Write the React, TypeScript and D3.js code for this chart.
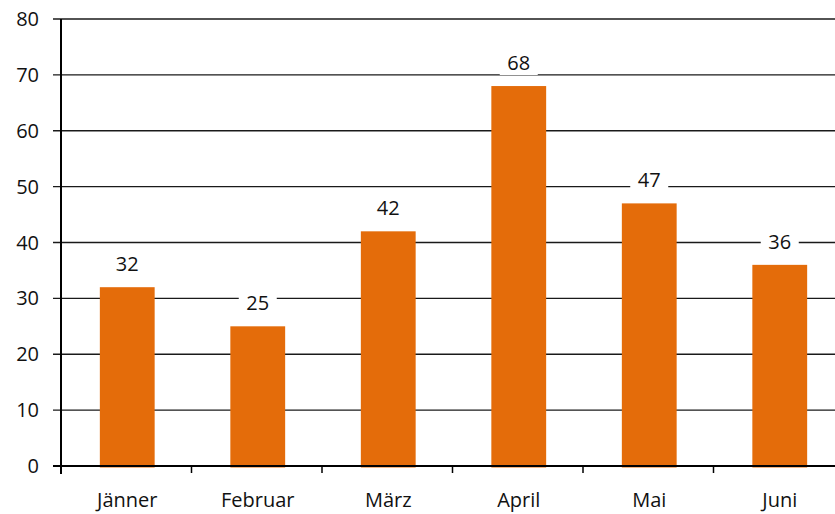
import React from "react";
import * as d3 from "d3";

const categories = ["Jänner", "Februar", "März", "April", "Mai", "Juni"];
const values = [32, 25, 42, 68, 47, 36];
const yTicks = [0, 10, 20, 30, 40, 50, 60, 70, 80];

const W = 835;
const H = 514;
const FONT = "'Open Sans', Lato, sans-serif";

export default function App() {
  const y = d3.scaleLinear().domain([0, 80]).range([466, 19]);
  const x = d3
    .scaleBand<string>()
    .domain(categories)
    .range([62, 845])
    .paddingInner(0.58)
    .paddingOuter(0.29);
  const step = x.step();
  const bw = x.bandwidth();
  const axisLeft = 61;
  const tickXs = d3.range(categories.length + 1).map((i) => 62 + i * step - 1);

  return (
    <svg
      width={W}
      height={H}
      style={{ position: "absolute", left: 0, top: 0, background: "#fff" }}
      fontFamily={FONT}
    >
      {yTicks.map((t) => (
        <g key={t}>
          {t !== 0 && (
            <line x1={53} x2={W} y1={y(t)} y2={y(t)} stroke="#1a1a1a" strokeWidth={1.4} />
          )}
          <text
            x={39}
            y={y(t) + 7}
            textAnchor="end"
            fontSize={20}
            fill="#111"
          >
            {t}
          </text>
        </g>
      ))}
      {categories.map((c, i) => {
        const v = values[i];
        const bx = x(c)!;
        const cx = bx + bw / 2;
        const top = y(v);
        return (
          <g key={c}>
            <rect x={bx} y={top} width={bw} height={y(0) - top + 1.5} fill="#E46C0A" />
            <rect x={cx - 19} y={top - 35} width={38} height={24} fill="#fff" />
            <text
              x={cx}
              y={top - 16}
              textAnchor="middle"
              fontSize={20}
              fill="#111"
            >
              {v}
            </text>
            <text
              x={cx}
              y={507}
              textAnchor="middle"
              fontSize={20}
              fill="#111"
            >
              {c}
            </text>
          </g>
        );
      })}
      <line x1={53} x2={W} y1={y(0)} y2={y(0)} stroke="#000" strokeWidth={2} />
      <line x1={axisLeft} x2={axisLeft} y1={19} y2={474} stroke="#000" strokeWidth={2} />
      {tickXs.map((tx, i) => (
        <line key={i} x1={tx} x2={tx} y1={466} y2={473} stroke="#000" strokeWidth={1.5} />
      ))}
    </svg>
  );
}
